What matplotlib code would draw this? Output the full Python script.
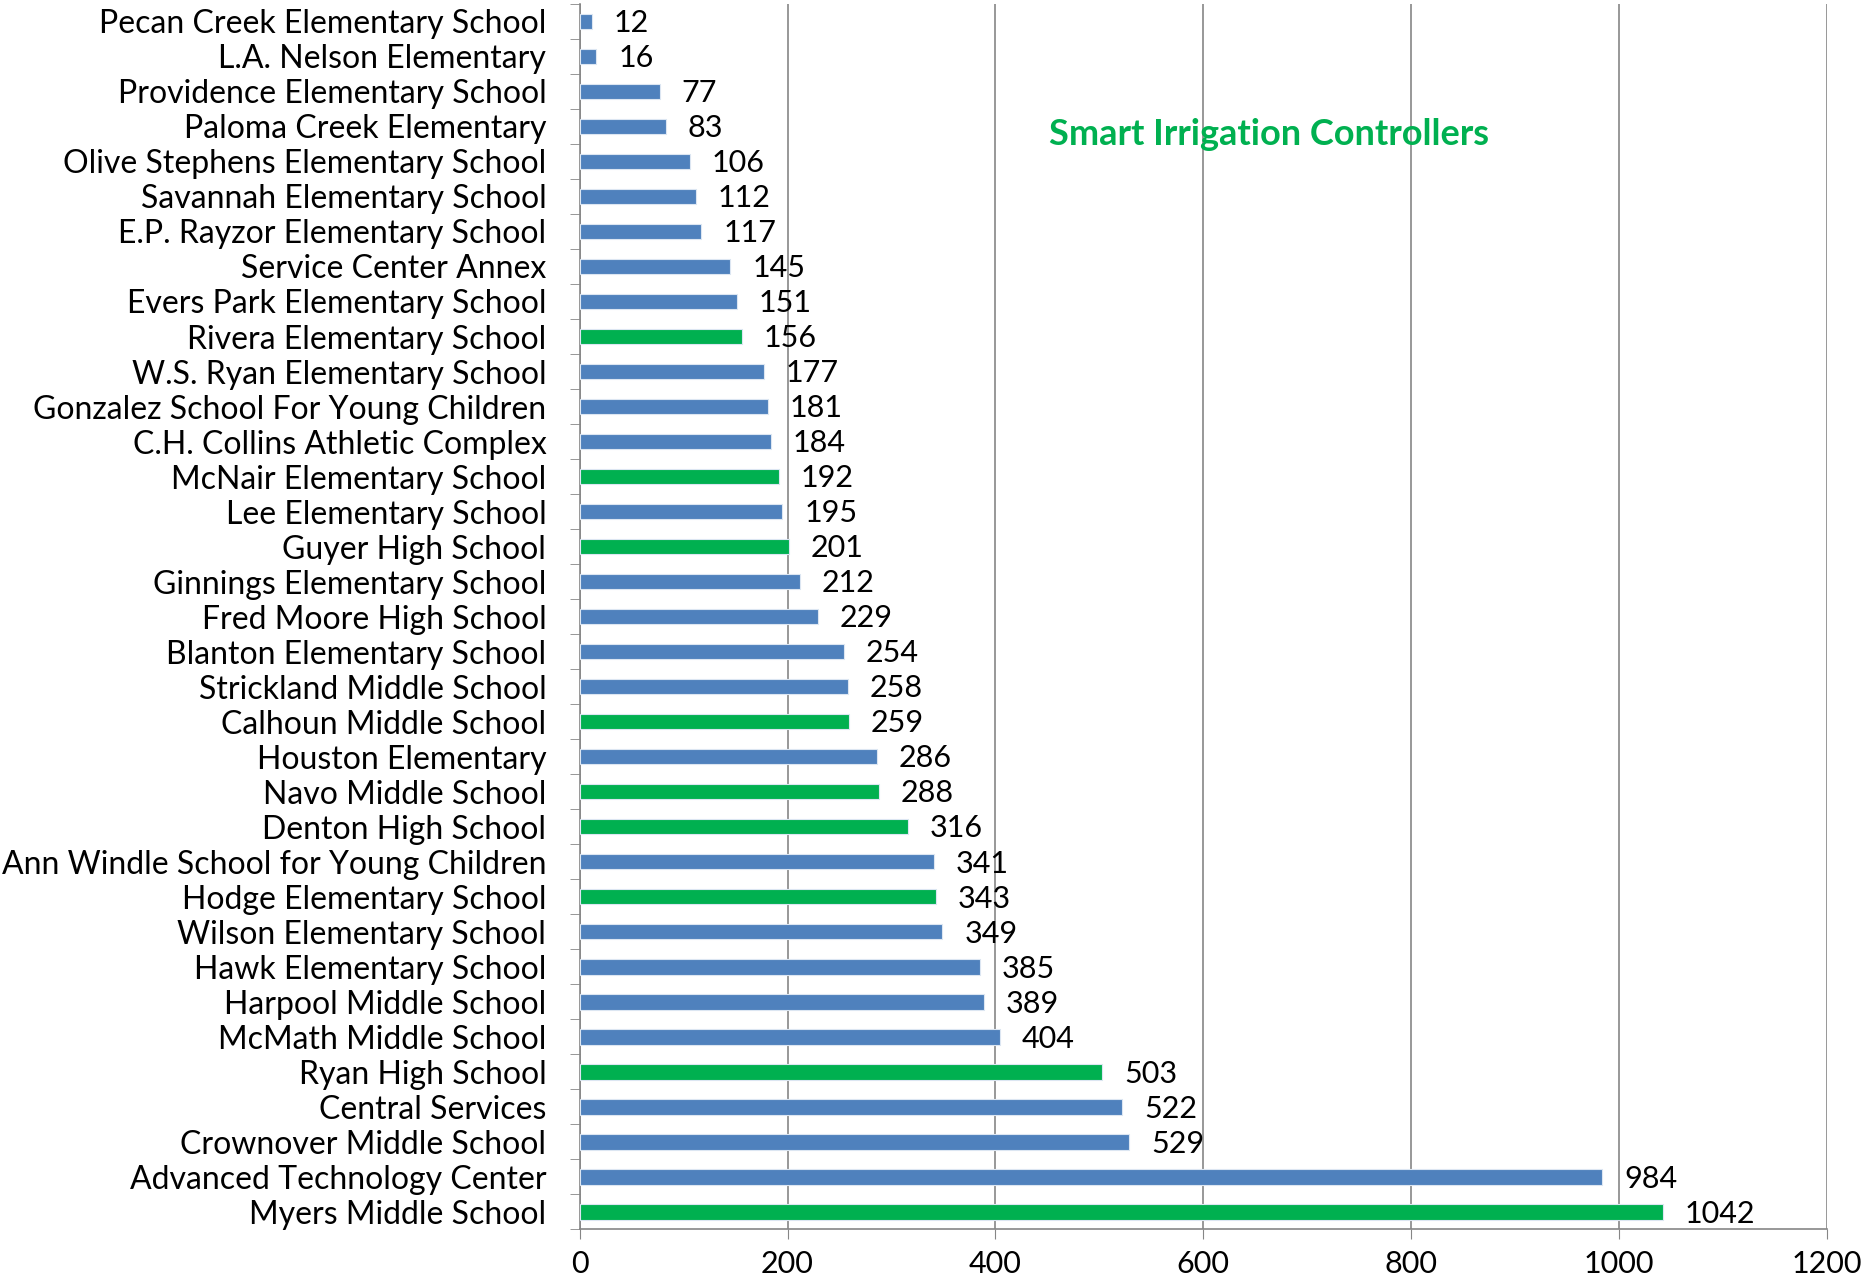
import matplotlib.pyplot as plt
import numpy as np

plt.rcParams['font.family'] = ['Lato', 'DejaVu Sans']

# top to bottom as in the chart
schools = ["Pecan Creek Elementary School", "L.A. Nelson Elementary",
           "Providence Elementary School", "Paloma Creek Elementary",
           "Olive Stephens Elementary School", "Savannah Elementary School",
           "E.P. Rayzor Elementary School", "Service Center Annex",
           "Evers Park Elementary School", "Rivera Elementary School",
           "W.S. Ryan Elementary School", "Gonzalez School For Young Children",
           "C.H. Collins Athletic Complex", "McNair Elementary School",
           "Lee Elementary School", "Guyer High School",
           "Ginnings Elementary School", "Fred Moore High School",
           "Blanton Elementary School", "Strickland Middle School",
           "Calhoun Middle School", "Houston Elementary",
           "Navo Middle School", "Denton High School",
           "Ann Windle School for Young Children", "Hodge Elementary School",
           "Wilson Elementary School", "Hawk Elementary School",
           "Harpool Middle School", "McMath Middle School",
           "Ryan High School", "Central Services",
           "Crownover Middle School", "Advanced Technology Center",
           "Myers Middle School"]
values = [12, 16, 77, 83, 106, 112, 117, 145, 151, 156, 177, 181, 184, 192,
          195, 201, 212, 229, 254, 258, 259, 286, 288, 316, 341, 343, 349,
          385, 389, 404, 503, 522, 529, 984, 1042]
smart = ["Rivera Elementary School", "McNair Elementary School",
         "Guyer High School", "Calhoun Middle School", "Navo Middle School",
         "Denton High School", "Hodge Elementary School", "Ryan High School",
         "Myers Middle School"]

blue = '#4F81BD'
green = '#00B050'
colors = [green if s in smart else blue for s in schools]

fig = plt.figure(figsize=(18.64, 12.82), dpi=100)
ax = fig.add_axes([0.311, 0.041, 0.669, 0.956])

y = np.arange(len(schools))
ax.barh(y, values, height=0.44, color=colors, edgecolor='#dce6f2',
        linewidth=0.8, zorder=3)

for yi, v in zip(y, values):
    ax.text(v + 21, yi + 0.05, str(v), va='center', ha='left',
            fontsize=22, color='black', zorder=4)

ax.set_ylim(len(schools) - 0.5, -0.5)
ax.set_xlim(0, 1200)
ax.set_xticks(np.arange(0, 1201, 200))
ax.set_yticks(y)
ax.set_yticklabels(schools, fontsize=23)
ax.set_yticks(np.arange(-0.5, len(schools), 1), minor=True)
ax.tick_params(axis='y', which='major', length=0, pad=24)
ax.tick_params(axis='y', which='minor', length=7, color='#868686')
ax.tick_params(axis='x', length=7, color='#868686', labelsize=22, pad=8)

ax.grid(axis='x', color='#868686', linewidth=1.2, zorder=0)
for s in ['top', 'right']:
    ax.spines[s].set_visible(False)
ax.spines['left'].set_color('#868686')
ax.spines['bottom'].set_color('#868686')
ax.spines['left'].set_linewidth(1.2)
ax.spines['bottom'].set_linewidth(1.2)

fig.text(0.681, 0.895, "Smart Irrigation Controllers", color=green,
         fontsize=26, fontweight='bold', ha='center', va='center')

fig.savefig('out.png', dpi=100)
